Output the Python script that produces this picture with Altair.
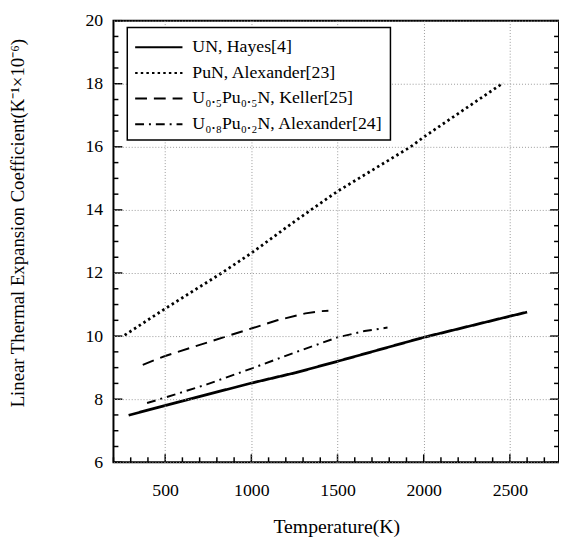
import altair as alt
import pandas as pd

FONT = "Liberation Serif"

series_names = [
    "UN, Hayes[4]",
    "PuN, Alexander[23]",
    "U₀.₅Pu₀.₅N, Keller[25]",
    "U₀.₈Pu₀.₂N, Alexander[24]",
]

un_T = [288, 500, 1000, 1257, 1500, 2000, 2500, 2600]
un_a = [7.49, 7.80, 8.51, 8.84, 9.20, 9.96, 10.63, 10.76]

pun_T = [265, 500, 828, 1000, 1257, 1500, 1924, 2000, 2462]
pun_a = [10.03, 10.87, 12.0, 12.63, 13.66, 14.59, 16.0, 16.31, 18.03]

keller_T = [370, 500, 860, 1000, 1150, 1314, 1400, 1447]
keller_a = [9.09, 9.37, 10.0, 10.24, 10.5, 10.72, 10.79, 10.8]

alex_T = [395, 500, 742, 1000, 1257, 1500, 1657, 1790]
alex_a = [7.88, 8.05, 8.47, 8.97, 9.49, 9.96, 10.16, 10.27]

x_major = [500, 1000, 1500, 2000, 2500]
x_minor = [v for v in range(200, 2800, 100) if v % 500 != 0]
y_major = [6, 8, 10, 12, 14, 16, 18, 20]
y_minor = [6 + 0.5 * i for i in range(29) if (6 + 0.5 * i) % 2 != 0]

rows = []
for name, Ts, As in zip(series_names, [un_T, pun_T, keller_T, alex_T], [un_a, pun_a, keller_a, alex_a]):
    for t, a in zip(Ts, As):
        rows.append({"T": t, "alpha": a, "series": name})
df = pd.DataFrame(rows)

W, H = 452, 448
xscale = alt.Scale(domain=[200, 2785], nice=False, zero=False)
yscale = alt.Scale(domain=[6, 20], nice=False, zero=False)

thick_test = f"datum.series === '{series_names[0]}' || datum.series === '{series_names[1]}'"

lines = alt.Chart(df).mark_line(color="black", clip=True).encode(
    x=alt.X("T:Q", scale=xscale, axis=alt.Axis(
        orient="bottom", values=x_major, format="d", grid=True, ticks=False, tickSize=0,
        domain=False, labelPadding=20, labelFont=FONT, labelFontSize=18, labelColor="black",
        gridColor="#999999", gridDash=[1, 2], gridWidth=1, zindex=1,
        title="Temperature(K)", titleFont=FONT, titleFontSize=20, titleFontWeight="normal",
        titleColor="black", titlePadding=17)),
    y=alt.Y("alpha:Q", scale=yscale, axis=alt.Axis(
        orient="left", values=y_major, format="d", grid=True, ticks=False, tickSize=0,
        domain=False, labelPadding=11, labelFont=FONT, labelFontSize=18, labelColor="black",
        gridColor="#999999", gridDash=[1, 2], gridWidth=1, zindex=1,
        title="Linear Thermal Expansion Coefficient(K⁻¹×10⁻⁶)", titleFont=FONT,
        titleFontSize=19, titleFontWeight="normal", titleColor="black", titlePadding=58,
        titleY=205)),
    strokeDash=alt.StrokeDash("series:N", scale=alt.Scale(
        domain=series_names, range=[[1, 0], [2.5, 3.2], [12, 7], [9, 5, 2, 5]]),
        legend=alt.Legend(
            orient="none", legendX=14, legendY=7, title=None, symbolType="M-2,0H2",
            symbolSize=576, symbolStrokeWidth=2, symbolStrokeColor="black",
            symbolOffset=12, symbolFillColor="transparent",
            labelFont=FONT, labelFontSize=18, labelColor="black", labelLimit=400,
            labelOffset=21, padding=7, rowPadding=4, strokeColor="black",
            fillColor="white", cornerRadius=0, zindex=2)),
    strokeWidth=alt.condition(thick_test, alt.value(2.8), alt.value(2.0)),
    detail="series:N",
)


# inward tick marks, placed through the shared scales (axes shared with the main layer)
def x_ticks(vals, length):
    return alt.Chart(pd.DataFrame({"T": vals})).mark_rule(
        color="black", strokeWidth=1.5
    ).encode(
        x=alt.X("T:Q", scale=xscale),
        y=alt.value(H), y2=alt.value(H - length),
    )


def y_ticks(vals, length, right=False):
    x0 = W if right else 0
    x1 = W - length if right else length
    return alt.Chart(pd.DataFrame({"alpha": vals})).mark_rule(
        color="black", strokeWidth=1.5
    ).encode(
        y=alt.Y("alpha:Q", scale=yscale),
        x=alt.value(x0), x2=alt.value(x1),
    )


layers = [
    lines,
    x_ticks(x_minor, 5), x_ticks(x_major, 8),
    y_ticks(y_minor, 5), y_ticks(y_major, 9),
    y_ticks(y_minor, 5, right=True), y_ticks(y_major, 9, right=True),
]

chart = alt.layer(*layers).properties(
    width=W, height=H,
    padding={"left": 107, "top": 9, "right": 0, "bottom": 74},
    autosize=alt.AutoSizeParams(type="none"),
    background="white",
).configure_view(
    stroke="black", strokeWidth=2
).configure_legend(
    strokeWidth=1.5
)

chart.save("out.html", embed_options={"renderer": "svg", "actions": False})
